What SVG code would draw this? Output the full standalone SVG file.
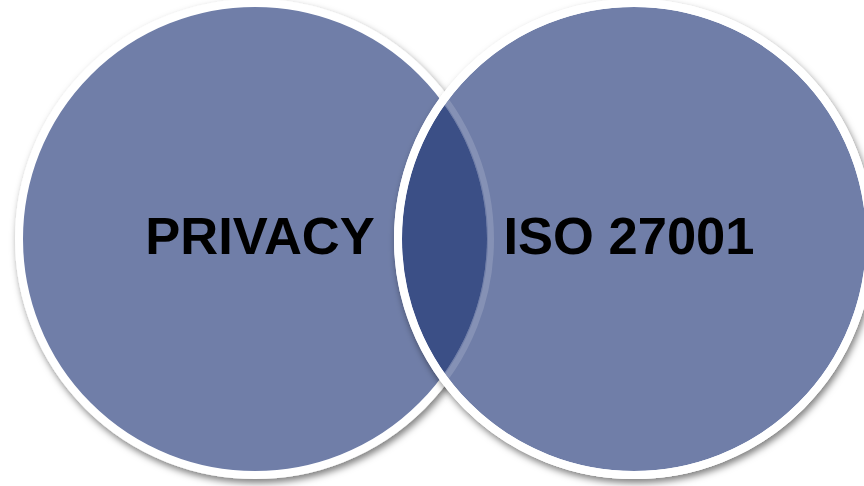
<svg xmlns="http://www.w3.org/2000/svg" width="864" height="486" viewBox="0 0 864 486">
<style>
.circ{fill:#6F7EA8;stroke:#FFFFFF;stroke-width:8}
.lbl{font-family:"Liberation Sans",Arial,sans-serif;font-weight:bold;font-size:52.5px;fill:#000000;text-anchor:middle}
</style>
<defs>
<filter id="sh" x="-10%" y="-10%" width="120%" height="120%">
<feDropShadow dx="2" dy="4" stdDeviation="3.5" flood-color="#000" flood-opacity="0.5"/>
</filter>
<clipPath id="clipL"><circle cx="255" cy="239" r="232"/></clipPath>
<clipPath id="clipR"><circle cx="634" cy="239" r="232"/></clipPath>
</defs>
<rect width="864" height="486" fill="#FFFFFF"/>
<g id="privacy">
<circle class="circ" cx="255" cy="239" r="236" filter="url(#sh)"/>
</g>
<g id="iso27001">
<circle class="circ" cx="634" cy="239" r="236" filter="url(#sh)"/>
<g clip-path="url(#clipR)">
<circle cx="255" cy="239" r="232" fill="#3B4F86" clip-path="url(#clipL)"/>
<circle cx="255" cy="239" r="236" fill="none" stroke="#FFFFFF" stroke-opacity="0.15" stroke-width="6"/>
</g>
<circle cx="634" cy="239" r="236" fill="none" stroke="#FFFFFF" stroke-width="8"/>
</g>
<g id="labels">
<text class="lbl" x="260" y="254">PRIVACY</text>
<text class="lbl" x="629" y="254">ISO 27001</text>
</g>
<g id="connectors"/>
</svg>
